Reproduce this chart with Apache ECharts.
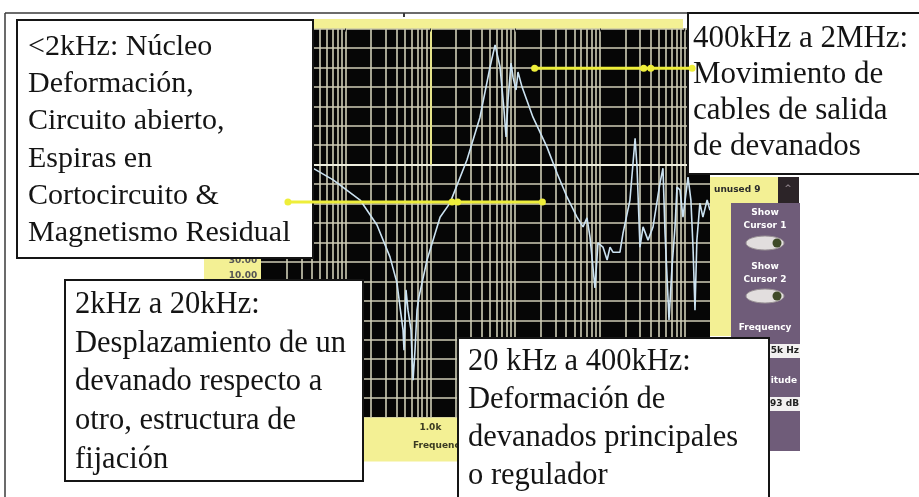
<!DOCTYPE html>
<html>
<head>
<meta charset="utf-8">
<script src="https://cdn.jsdelivr.net/npm/echarts@6/dist/echarts.min.js"></script>
<style>
  html, body { margin: 0; padding: 0; background: #ffffff; }
  #chart { width: 919px; height: 497px; }
</style>
</head>
<body>
<div id="chart"></div>
<script>
// Measured frequency response: frequency (Hz) and magnitude (dB)
const freqHz = [10, 22, 45, 71, 148, 234, 333, 403, 438, 475,
  488, 515, 544, 590, 624, 658, 695, 733, 912, 1300,
  1700, 2700, 3850, 5060, 5800, 6640, 7400, 7820, 8250, 8950,
  9450, 10250, 10820, 12060, 16250, 23800, 31300, 41000, 53800, 63400,
  70600, 76600, 87700, 95200, 109000, 122000, 132000, 143000, 173000, 188000,
  227000, 261000, 275000, 298000, 324000, 371000, 425000, 514000, 557000, 589000,
  656000, 712000, 773000, 815000, 884000, 959000, 1100000, 1190000, 1260000, 1330000,
  1400000, 1520000, 1650000, 1850000, 2000000];
const magDb = [-28.7, -32.5, -36.4, -38.9, -44.1, -50.5, -58.7, -65.4, -71.6, -77.5,
  -82.7, -67.2, -72.4, -77.5, -90.4, -82.7, -72.4, -69.0, -59.5, -48.5,
  -44.9, -33.8, -22.8, -9.9, -4.2, -9.9, -21.0, -27.9, -18.4, -8.9,
  -12.5, -15.8, -11.2, -15.0, -22.8, -30.5, -37.2, -43.3, -48.5, -51.0,
  -48.7, -53.6, -66.7, -55.1, -56.2, -59.5, -56.2, -57.5, -57.5, -52.6,
  -44.1, -28.2, -35.6, -56.2, -51.0, -54.4, -51.0, -39.7, -35.9, -52.6,
  -74.9, -61.3, -51.0, -40.8, -41.5, -48.5, -38.2, -44.1, -56.2, -72.4,
  -54.4, -44.9, -48.5, -44.1, -46.7];

// Frequency band markers (Hz) drawn as yellow bars
const bandLowFreq = [20.8, 1800, 2100, 21000];
const bandLowDb = -44.6;
const bandHighFreq = [17000, 330000, 400000, 1230000];
const bandHighDb = -10.2;

// Analyzer cursor position
const cursorFreq = 1000;
const cursorDb = -35;

// Axis ranges
const freqMin = 10, freqMax = 2000000;
const dbMin = -100, dbMax = 0, dbStep = 5;

// Band descriptions
const noteLowCore = ['<2kHz: Núcleo', 'Deformación,', 'Circuito abierto,', 'Espiras en', 'Cortocircuito &', 'Magnetismo Residual'];
const noteLeads = ['400kHz a 2MHz:', 'Movimiento de', 'cables de salida', 'de devanados'];
const noteWindingShift = ['2kHz a 20kHz:', 'Desplazamiento de un', 'devanado respecto a', 'otro, estructura de', 'fijación'];
const noteMainWindings = ['20 kHz a 400kHz:', 'Deformación de', 'devanados principales', 'o regulador'];

// Log-decade grid positions (1..9 x each decade)
const vGrid = [];
for (let d = 10; d <= freqMax; d *= 10) {
  for (let k = 1; k <= 9; k++) {
    const v = k * d;
    if (v > freqMin && v < freqMax) vGrid.push({ xAxis: v });
  }
}

const curve = freqHz.map((f, i) => [f, magDb[i]]);
const bandLow = bandLowFreq.map(f => [f, bandLowDb]);
const bandHigh = bandHighFreq.map(f => [f, bandHighDb]);

const YEL = '#f3f094';
const PURPLE = '#6f5c79';
const SERIF = '"Liberation Serif", "Times New Roman", serif';
const SANS = '"DejaVu Sans", sans-serif';

function noteBox(x, y, w, h, textX, textY, lines, size, lh) {
  return [
    { type: 'rect', z: 10, shape: { x: x, y: y, width: w, height: h },
      style: { fill: '#ffffff', stroke: '#151515', lineWidth: 2 } },
    { type: 'text', z: 11, x: textX, y: textY,
      style: { text: lines.join('\n'), fill: '#141414', fontFamily: SERIF, fontSize: size,
               lineHeight: lh, textAlign: 'left', textVerticalAlign: 'top' } }
  ];
}

function panelText(cx, cy, txt, color, align) {
  return { type: 'text', z: 6, x: cx, y: cy,
    style: { text: txt, fill: color || '#ffffff', fontFamily: SANS, fontSize: 9, fontWeight: 'bold',
             textAlign: align || 'center', textVerticalAlign: 'middle' } };
}

function toggle(cy) {
  return [
    { type: 'ellipse', z: 6, shape: { cx: 765, cy: cy, rx: 19, ry: 7 },
      style: { fill: '#e2dede', stroke: '#9a9296', lineWidth: 1 } },
    { type: 'circle', z: 7, shape: { cx: 777, cy: cy, r: 4.5 },
      style: { fill: '#3f4a28' } }
  ];
}

const graphics = [
  // outer frame
  { type: 'line', z: 4, shape: { x1: 5, y1: 13, x2: 919, y2: 13 }, style: { stroke: '#3a3a3a', lineWidth: 1.5 } },
  { type: 'line', z: 4, shape: { x1: 5, y1: 13, x2: 5, y2: 497 }, style: { stroke: '#3a3a3a', lineWidth: 1.5 } },
  { type: 'line', z: 4, shape: { x1: 404, y1: 13, x2: 404, y2: 17 }, style: { stroke: '#3a3a3a', lineWidth: 2 } },
  // yellow bezel pieces of the analyzer screen
  { type: 'rect', z: 1, shape: { x: 261, y: 19, width: 422, height: 9.5 }, style: { fill: YEL } },
  { type: 'rect', z: 1, shape: { x: 363, y: 417.5, width: 347, height: 44 }, style: { fill: YEL } },
  { type: 'rect', z: 1, shape: { x: 204, y: 256, width: 57, height: 26 }, style: { fill: YEL } },
  panelText(243, 261, '30.00', '#555555'),
  panelText(243, 276, '10.00', '#555555'),
  { type: 'text', z: 4, x: 413, y: 446,
    style: { text: 'Frequency (Hz)', fill: '#3a3a22', fontFamily: SANS, fontSize: 9, fontWeight: 'bold',
             textAlign: 'left', textVerticalAlign: 'middle' } },
  // side control panel
  { type: 'rect', z: 5, shape: { x: 710, y: 177, width: 68, height: 26 }, style: { fill: YEL } },
  { type: 'rect', z: 5, shape: { x: 710, y: 203, width: 21, height: 133 }, style: { fill: YEL } },
  { type: 'rect', z: 5, shape: { x: 778, y: 177, width: 21, height: 26 }, style: { fill: '#2c2428' } },
  panelText(788, 189, '^', '#8a7f86'),
  { type: 'rect', z: 5, shape: { x: 731, y: 203, width: 69, height: 248 }, style: { fill: PURPLE } },
  panelText(714, 190, 'unused 9', '#2a2a2a', 'left'),
  panelText(765, 213, 'Show'),
  panelText(765, 226, 'Cursor 1'),
  ...toggle(243),
  panelText(765, 267, 'Show'),
  panelText(765, 280, 'Cursor 2'),
  ...toggle(296),
  panelText(765, 328, 'Frequency'),
  { type: 'rect', z: 6, shape: { x: 752, y: 344, width: 48, height: 14 }, style: { fill: '#f2f0f0' } },
  panelText(799, 351, '125k Hz', '#222222', 'right'),
  panelText(797, 381, 'Amplitude', '#ffffff', 'right'),
  { type: 'rect', z: 6, shape: { x: 752, y: 397, width: 48, height: 14 }, style: { fill: '#f2f0f0' } },
  panelText(799, 404, '-45.93 dB', '#222222', 'right'),
  // band description boxes
  ...noteBox(17, 20, 296, 238, 28, 28.5, noteLowCore, 30, 37.2),
  ...noteBox(688, 13, 240, 161, 693, 21, noteLeads, 31, 36),
  ...noteBox(65, 280, 298, 201, 75, 285.6, noteWindingShift, 30.5, 38.7),
  ...noteBox(458, 338, 311, 170, 468, 343, noteMainWindings, 30.5, 38)
];

const chart = echarts.init(document.getElementById('chart'), null, { renderer: 'canvas' });
chart.setOption({
  animation: false,
  backgroundColor: '#ffffff',
  grid: {
    left: 261, right: 209, top: 28.5, bottom: 79.5,
    show: true, backgroundColor: '#060606', borderWidth: 0
  },
  xAxis: {
    type: 'log', logBase: 10, min: freqMin, max: freqMax, z: 3,
    axisLine: { show: false },
    axisTick: { show: true, length: 3, lineStyle: { color: '#2a2a2a' } },
    axisLabel: {
      show: true, margin: 6, fontSize: 9, fontWeight: 'bold', color: '#3a3a22', fontFamily: SANS,
      formatter: v => v >= 1e6 ? (v / 1e6).toFixed(1) + 'M' : v >= 1000 ? (v / 1000).toFixed(1) + 'k' : String(v)
    },
    splitLine: { show: false }
  },
  yAxis: {
    type: 'value', min: dbMin, max: dbMax, interval: dbStep,
    axisLine: { show: false }, axisTick: { show: false }, axisLabel: { show: false },
    splitLine: { show: true, lineStyle: { color: '#cfcdb6', width: 1.6 } }
  },
  series: [
    {
      type: 'line', name: 'Magnitud', data: curve, z: 3,
      showSymbol: false, symbol: 'none', clip: true,
      lineStyle: { color: '#cbe2f1', width: 1.6 },
      markLine: {
        z: 1, silent: true, symbol: 'none', animation: false,
        label: { show: false },
        lineStyle: { type: 'solid', color: '#cfcdb6', width: 1.6 },
        data: [
          ...vGrid,
          { yAxis: cursorDb, lineStyle: { color: '#eeeede', width: 2 } },
          [{ coord: [cursorFreq, dbMax], lineStyle: { color: '#e6e48a', width: 2 } }, { coord: [cursorFreq, cursorDb] }]
        ]
      }
    },
    {
      type: 'line', name: '2 kHz – 20 kHz', data: bandLow, z: 20, clip: false,
      symbol: 'circle', symbolSize: 7,
      itemStyle: { color: '#eeee3a' },
      lineStyle: { color: '#eeee3a', width: 3 }
    },
    {
      type: 'line', name: '20 kHz – 2 MHz', data: bandHigh, z: 20, clip: false,
      symbol: 'circle', symbolSize: 7,
      itemStyle: { color: '#eeee3a' },
      lineStyle: { color: '#eeee3a', width: 3 }
    }
  ],
  graphic: graphics
});
</script>
</body>
</html>
